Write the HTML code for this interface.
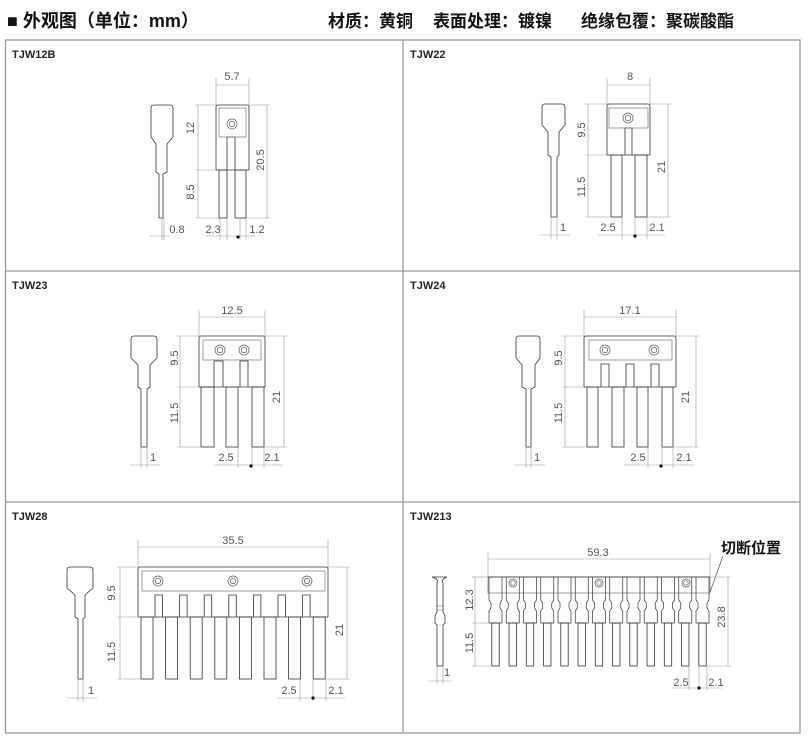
<!DOCTYPE html>
<html><head><meta charset="utf-8"><style>
html,body{margin:0;padding:0;background:#fff;}
svg{display:block;}
.t{font-family:"Liberation Sans",sans-serif;font-size:11px;fill:#555;}
.lb{font-family:"Liberation Sans",sans-serif;font-size:11px;font-weight:bold;fill:#222;}
.h{font-family:"Liberation Sans","Noto Sans CJK SC",sans-serif;fill:#111;}
</style></head><body>
<svg id="s" width="809" height="740" viewBox="0 0 809 740" xmlns="http://www.w3.org/2000/svg">
<rect x="0" y="0" width="809" height="740" fill="#fff"/>
<text class="h" x="7" y="27" font-size="18" font-weight="bold">■ 外观图（单位：mm）</text>
<text class="h" x="328" y="27" font-size="17" font-weight="bold">材质：黄铜</text>
<text class="h" x="433" y="27" font-size="17" font-weight="bold">表面处理：镀镍</text>
<text class="h" x="581" y="27" font-size="17" font-weight="bold">绝缘包覆：聚碳酸酯</text>
<g fill="none" stroke="#999" stroke-width="1.3">
<rect x="5.5" y="40" width="794.5" height="693"/>
<line x1="403" y1="40" x2="403" y2="733"/>
<line x1="5.5" y1="271" x2="800" y2="271"/>
<line x1="5.5" y1="502" x2="800" y2="502"/>
</g>
<text class="lb" x="12" y="58">TJW12B</text>
<text class="lb" x="410" y="58">TJW22</text>
<text class="lb" x="12" y="289">TJW23</text>
<text class="lb" x="410" y="289">TJW24</text>
<text class="lb" x="12" y="520">TJW28</text>
<text class="lb" x="410" y="520">TJW213</text>

<text class="t" x="232" y="80" text-anchor="middle">5.7</text>
<text class="t" transform="translate(194,128) rotate(-90)" text-anchor="middle">12</text>
<text class="t" transform="translate(194,192) rotate(-90)" text-anchor="middle">8.5</text>
<text class="t" transform="translate(264,160) rotate(-90)" text-anchor="middle">20.5</text>
<text class="t" x="177" y="233" text-anchor="middle">0.8</text>
<text class="t" x="213" y="233" text-anchor="middle">2.3</text>
<text class="t" x="257" y="233" text-anchor="middle">1.2</text>
<text class="t" x="630" y="80" text-anchor="middle">8</text>
<text class="t" transform="translate(585,130) rotate(-90)" text-anchor="middle">9.5</text>
<text class="t" transform="translate(585,187) rotate(-90)" text-anchor="middle">11.5</text>
<text class="t" transform="translate(665,167) rotate(-90)" text-anchor="middle">21</text>
<text class="t" x="563" y="231" text-anchor="middle">1</text>
<text class="t" x="608" y="231" text-anchor="middle">2.5</text>
<text class="t" x="657" y="231" text-anchor="middle">2.1</text>
<text class="t" x="232" y="314" text-anchor="middle">12.5</text>
<text class="t" transform="translate(178,358) rotate(-90)" text-anchor="middle">9.5</text>
<text class="t" transform="translate(178,413) rotate(-90)" text-anchor="middle">11.5</text>
<text class="t" transform="translate(280,397) rotate(-90)" text-anchor="middle">21</text>
<text class="t" x="153" y="461" text-anchor="middle">1</text>
<text class="t" x="226" y="461" text-anchor="middle">2.5</text>
<text class="t" x="272" y="461" text-anchor="middle">2.1</text>
<text class="t" x="630" y="314" text-anchor="middle">17.1</text>
<text class="t" transform="translate(562,358) rotate(-90)" text-anchor="middle">9.5</text>
<text class="t" transform="translate(562,413) rotate(-90)" text-anchor="middle">11.5</text>
<text class="t" transform="translate(689,397) rotate(-90)" text-anchor="middle">21</text>
<text class="t" x="537" y="461" text-anchor="middle">1</text>
<text class="t" x="638" y="461" text-anchor="middle">2.5</text>
<text class="t" x="684" y="461" text-anchor="middle">2.1</text>
<text class="t" x="233" y="544" text-anchor="middle">35.5</text>
<text class="t" transform="translate(115,593) rotate(-90)" text-anchor="middle">9.5</text>
<text class="t" transform="translate(115,652) rotate(-90)" text-anchor="middle">11.5</text>
<text class="t" transform="translate(343,630) rotate(-90)" text-anchor="middle">21</text>
<text class="t" x="91" y="694" text-anchor="middle">1</text>
<text class="t" x="289" y="694" text-anchor="middle">2.5</text>
<text class="t" x="336" y="694" text-anchor="middle">2.1</text>
<text class="t" x="598" y="556" text-anchor="middle">59.3</text>
<text class="t" transform="translate(473,600) rotate(-90)" text-anchor="middle">12.3</text>
<text class="t" transform="translate(473,643) rotate(-90)" text-anchor="middle">11.5</text>
<text class="t" transform="translate(725,617) rotate(-90)" text-anchor="middle">23.8</text>
<text class="t" x="447" y="676" text-anchor="middle">1</text>
<text class="t" x="681" y="686" text-anchor="middle">2.5</text>
<text class="t" x="716" y="686" text-anchor="middle">2.1</text>
<text class="h" x="721" y="553" font-size="15" font-weight="bold">切断位置</text>
</svg>
<script>
var ns="http://www.w3.org/2000/svg",S=document.getElementById('s');
function el(t,a){var e=document.createElementNS(ns,t);for(var k in a)e.setAttribute(k,a[k]);S.appendChild(e);return e;}
function R(x,y,w,h,c,sw){el('rect',{x:x,y:y,width:w,height:h,fill:'none',stroke:c||'#333','stroke-width':sw||0.8});}
function L(x1,y1,x2,y2,c,sw){el('line',{x1:x1,y1:y1,x2:x2,y2:y2,stroke:c||'#999','stroke-width':sw||0.6});}
function C(x,y,r){el('circle',{cx:x,cy:y,r:r,fill:'none',stroke:'#555','stroke-width':0.7});el('circle',{cx:x,cy:y,r:r*0.55,fill:'none',stroke:'#555','stroke-width':0.7});}
function D(x,y){el('circle',{cx:x,cy:y,r:1.6,fill:'#111'});}
function side(x1,x2,yt,yh,nx1,nx2,yn,px1,px2,yb){
 el('path',{d:'M'+(x1+3)+' '+yt+' H'+(x2-3)+' Q'+x2+' '+yt+' '+x2+' '+(yt+3)+' V'+yh+' L'+nx2+' '+(yh+7)+' V'+yn+' L'+px2+' '+(yn+2)+' V'+yb+' H'+px1+' V'+(yn+2)+' L'+nx1+' '+yn+' V'+(yh+7)+' L'+x1+' '+yh+' V'+(yt+3)+' Q'+x1+' '+yt+' '+(x1+3)+' '+yt+' Z',fill:'none',stroke:'#333','stroke-width':0.8});
}
function hd(x1,x2,y){L(x1,y,x2,y);}
function vd(x,y1,y2){L(x,y1,x,y2);}
function comb(x1,x2,yt,ym,yb,slots,legs,st){
 var d='M'+x1+' '+ym+' V'+(yt+2)+' Q'+x1+' '+yt+' '+(x1+2)+' '+yt+' H'+(x2-2)+' Q'+x2+' '+yt+' '+x2+' '+(yt+2)+' V'+ym;
 el('path',{d:d,fill:'none',stroke:'#333','stroke-width':0.8});
 slots.forEach(function(s){el('path',{d:'M'+s[0]+' '+ym+' V'+st+' H'+(s[0]+s[1])+' V'+ym,fill:'none',stroke:'#333','stroke-width':0.8});});
 legs.forEach(function(l){R(l[0],ym,l[1],yb-ym);});
 L(x1,ym,x2,ym,'#333',0.8);
}
side(151,173,105,137,156,167,172,159,163,218);
comb(216,249,105,170,218,[[227,8]],[[219,8],[235,11]],137);
R(219,108,27,29,'#777',0.7);C(232,124,5);
hd(216,249,85);L(216,78,216,105);L(249,78,249,105);
vd(198,105,218);L(195,170,216,170);L(195,105,216,105);L(195,218,219,218);
vd(267,105,218);L(249,105,270,105);L(246,218,270,218);
L(162,218,162,240);L(164,218,164,240);hd(150,170,236);
L(220,218,220,240);L(227,218,227,240);L(240,218,240,240);L(246,218,246,240);hd(206,255,236);D(238,237);
side(542,565,104,125,548,559,155,551,557,217);
comb(607,650,104,155,217,[[625,7]],[[611,11],[635,12]],128);
R(609,108,39,20,'#777',0.7);C(628,118,5);
hd(607,650,85);L(607,78,607,104);L(650,78,650,104);
vd(588,104,217);L(585,155,607,155);L(585,104,607,104);L(585,217,611,217);
vd(668,104,217);L(650,104,671,104);L(647,217,671,217);
L(551,217,551,239);L(557,217,557,239);hd(540,570,235);
L(622,217,622,239);L(635,217,635,239);L(647,217,647,239);hd(598,665,235);D(635,236);
side(131,157,336,358,138,150,387,141,147,447);
comb(199,265,336,387,447,[[214,9],[240,8]],[[201,13],[226,12],[252,12]],361);
R(203,340,58,20,'#777',0.7);C(220,350,5);C(244,350,5);
hd(199,265,317);L(199,310,199,336);L(265,310,265,336);
vd(180,336,447);L(177,387,199,387);L(177,336,199,336);L(177,447,201,447);
vd(284,336,447);L(265,336,287,336);L(264,447,287,447);
L(141,447,141,468);L(147,447,147,468);hd(130,160,465);
L(238,447,238,468);L(252,447,252,468);L(264,447,264,468);hd(214,283,465);D(251,466);
side(516,540,336,358,522,535,387,526,531,447);
comb(584,676,336,387,447,[[601,8],[626,8],[651,8]],[[587,11],[612,12],[637,11],[662,11]],364);
R(589,340,83,20,'#777',0.7);C(605,350,5);C(654,350,5);
hd(584,676,317);L(584,310,584,336);L(676,310,676,336);
vd(565,336,447);L(562,387,584,387);L(562,336,584,336);L(562,447,587,447);
vd(696,336,447);L(676,336,699,336);L(673,447,699,447);
L(526,447,526,468);L(531,447,531,468);hd(515,545,465);
L(648,447,648,468);L(662,447,662,468);L(673,447,673,468);hd(624,695,465);D(661,466);
side(67,93,567,588,75,85,617,78,83,679);
var sl=[],lg=[];for(var i=0;i<7;i++)sl.push([155+i*24.6,7.5]);for(i=0;i<8;i++)lg.push([141+i*24.6,12]);
comb(138,328,567,617,679,sl,lg,595);
R(142,571,183,20,'#777',0.7);C(158,581,5);C(233,581,5);C(307,581,5);
hd(138,328,547);L(138,540,138,567);L(328,540,328,567);
vd(120,567,679);L(117,617,138,617);L(117,567,138,567);L(117,679,141,679);
vd(347,567,679);L(328,567,350,567);L(325,679,350,679);
L(78,679,78,701);L(83,679,83,701);hd(67,97,698);
L(300,679,300,701);L(313,679,313,701);L(326,679,326,701);hd(277,345,698);D(313,698);
el('path',{d:'M432 577 Q439 579 437 583 V612 L435 616 V623 L437 625 V666 H443 V625 L445 623 V616 L443 612 V583 Q441 579 447 577 Z',fill:'none',stroke:'#333','stroke-width':0.8});
L(436,606,444,606,'#777',0.6);L(436,610,444,610,'#777',0.6);
R(488,577,222,16,'#777',0.7);
L(488,577,710,577,'#333',0.8);
for(i=0;i<13;i++){
 var x=489+i*17.25,w=13,m=x+w/2;
 el('path',{d:'M'+x+' 577 V600 L'+(x+2)+' 603 V608 L'+x+' 611 V623 H'+(x+w)+' V611 L'+(x+w-2)+' 608 V603 L'+(x+w)+' 600 V577',fill:'none',stroke:'#333','stroke-width':0.7});
 R(m-3.7,623,7.4,43,'#333',0.8);
}
C(513,583,4);C(599,583,4);C(686,583,4);
hd(488,710,559);L(488,553,488,577);L(710,553,710,577);
L(723,556,710,592,'#333',0.6);
vd(475,577,666);L(472,623,489,623);L(472,577,488,577);L(472,666,491,666);
vd(728,577,666);L(710,577,731,577);L(707,666,731,666);
L(437,666,437,684);L(443,666,443,684);hd(428,452,681);
L(689,666,689,690);L(699,666,699,690);L(707,666,707,690);hd(672,722,688);D(699,688);
</script>
</body></html>
